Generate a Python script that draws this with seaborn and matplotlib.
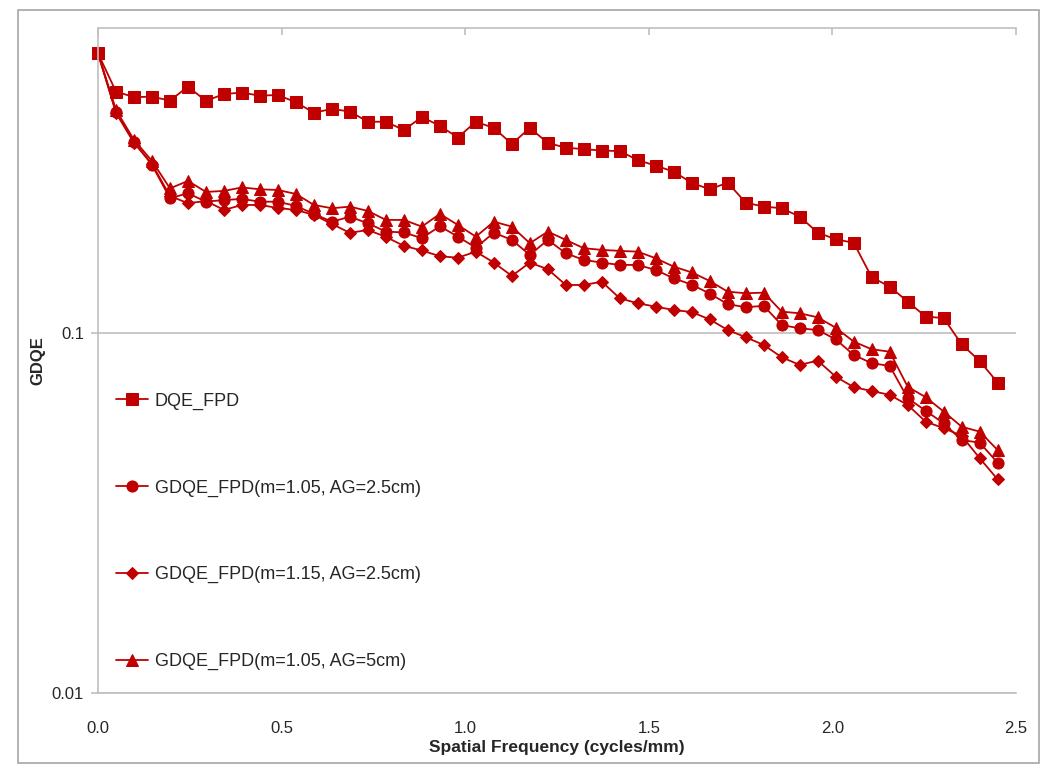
import matplotlib
matplotlib.use("Agg")
import matplotlib.pyplot as plt
import seaborn as sns
from matplotlib import font_manager
from matplotlib.patches import Rectangle

# spatial frequency (cycles/mm)
freq = [0.000, 0.049, 0.098, 0.147, 0.196, 0.245, 0.294, 0.343, 0.392, 0.441,
        0.490, 0.539, 0.588, 0.637, 0.686, 0.735, 0.784, 0.833, 0.882, 0.931,
        0.980, 1.029, 1.078, 1.127, 1.176, 1.225, 1.274, 1.323, 1.372, 1.421,
        1.470, 1.519, 1.568, 1.617, 1.666, 1.715, 1.764, 1.813, 1.862, 1.911,
        1.960, 2.009, 2.058, 2.107, 2.156, 2.205, 2.254, 2.303, 2.352, 2.401,
        2.450]

dqe_fpd = [0.598, 0.468, 0.452, 0.453, 0.442, 0.483, 0.441, 0.461, 0.465, 0.456,
           0.458, 0.437, 0.409, 0.419, 0.412, 0.386, 0.386, 0.366, 0.398, 0.376,
           0.349, 0.386, 0.371, 0.335, 0.371, 0.337, 0.327, 0.324, 0.321, 0.320,
           0.302, 0.2915, 0.2805, 0.261, 0.2506, 0.2615, 0.230, 0.2244, 0.222, 0.2104,
           0.190, 0.182, 0.178, 0.1428, 0.1345, 0.1222, 0.111, 0.110, 0.0930, 0.0836,
           0.0728]

gdqe_m105_ag25 = [0.598, 0.4111, 0.3399, 0.2928, 0.2367, 0.2443, 0.2315, 0.2340, 0.2356, 0.2315,
                  0.2315, 0.2253, 0.2141, 0.2037, 0.2103, 0.2016, 0.1912, 0.1902, 0.1833, 0.1979,
                  0.1851, 0.1725, 0.1899, 0.1813, 0.1647, 0.1813, 0.1665, 0.1595, 0.1568, 0.1545,
                  0.1545, 0.1496, 0.1418, 0.1362, 0.1286, 0.1202, 0.1179, 0.1189, 0.1052, 0.1030,
                  0.1019, 0.0960, 0.0869, 0.0824, 0.0810, 0.0659, 0.0608, 0.0561, 0.0504, 0.0496,
                  0.0436]

gdqe_m115_ag25 = [0.598, 0.4085, 0.3371, 0.2946, 0.2402, 0.2292, 0.2326, 0.2196, 0.2267, 0.2267,
                  0.2224, 0.2196, 0.2127, 0.2008, 0.1896, 0.1933, 0.1848, 0.1745, 0.1695, 0.1633,
                  0.1618, 0.1682, 0.1568, 0.1440, 0.1568, 0.1503, 0.1359, 0.1359, 0.1388, 0.1248,
                  0.1209, 0.1183, 0.1158, 0.1143, 0.1090, 0.1019, 0.0973, 0.0926, 0.0856, 0.0815,
                  0.0838, 0.0756, 0.0707, 0.0690, 0.0673, 0.0631, 0.0567, 0.0544, 0.0518, 0.0449,
                  0.0392]

gdqe_m105_ag5 = [0.598, 0.4163, 0.3437, 0.3004, 0.2520, 0.2644, 0.2464, 0.2480, 0.2536, 0.2506,
                 0.2495, 0.2432, 0.2267, 0.2220, 0.2243, 0.2182, 0.2060, 0.2060, 0.1974, 0.2141,
                 0.1995, 0.1851, 0.2037, 0.1974, 0.1775, 0.1912, 0.1813, 0.1719, 0.1701, 0.1690,
                 0.1682, 0.1612, 0.1528, 0.1473, 0.1394, 0.1302, 0.1289, 0.1294, 0.1146, 0.1134,
                 0.1105, 0.1034, 0.0946, 0.0901, 0.0887, 0.0709, 0.0663, 0.0605, 0.0549, 0.0532,
                 0.0473]

series_labels = ["DQE_FPD",
                 "GDQE_FPD(m=1.05, AG=2.5cm)",
                 "GDQE_FPD(m=1.15, AG=2.5cm)",
                 "GDQE_FPD(m=1.05, AG=5cm)"]

red = "#C00000"
grey = "#BFBFBF"

sns.set_style("white")
names = {f.name for f in font_manager.fontManager.ttflist}
base_font = "Liberation Sans Narrow" if "Liberation Sans Narrow" in names else "Liberation Sans"
plt.rcParams["font.family"] = [base_font, "DejaVu Sans"]

fig = plt.figure(figsize=(10.5, 7.75), dpi=100)
ax = fig.add_axes([98 / 1050, 1 - 693 / 775, (1016 - 98) / 1050, (693 - 28) / 775])

styles = [("s", 9), ("o", 8), ("D", 6), ("^", 8.5)]
for vals, label, (mk, ms) in zip([dqe_fpd, gdqe_m105_ag25, gdqe_m115_ag25, gdqe_m105_ag5],
                                 series_labels, styles):
    sns.lineplot(x=freq, y=vals, ax=ax, color=red, marker=mk, markersize=ms,
                 markeredgecolor=red, markerfacecolor=red, linewidth=1.3, label=label,
                 clip_on=False)

ax.set_yscale("log")
ax.set_xlim(0, 2.5)
ax.set_ylim(0.01, 0.703)
ax.set_yticks([0.01, 0.1], labels=["0.01", "0.1"])
ax.yaxis.set_minor_locator(matplotlib.ticker.NullLocator())
ax.set_xticks([0.0, 0.5, 1.0, 1.5, 2.0, 2.5],
              labels=["0.0", "0.5", "1.0", "1.5", "2.0", "2.5"])

ax.grid(axis="y", which="major", color=grey, linewidth=1.2)
ax.grid(axis="x", visible=False)
ax.spines["right"].set_visible(False)
for side in ["left", "top", "bottom"]:
    ax.spines[side].set_color(grey)
    ax.spines[side].set_linewidth(1.2)

ax.tick_params(axis="x", top=True, bottom=False, labeltop=False, labelbottom=True,
               direction="in", length=5, color=grey, width=1.2, pad=20, labelsize=12)
ax.tick_params(axis="y", left=True, direction="out", length=5, color=grey, width=1.2,
               pad=5, labelsize=12)

ax.set_xlabel("Spatial Frequency (cycles/mm)", fontsize=12.5, fontweight="bold", labelpad=3)
ax.set_ylabel("GDQE", fontsize=12, fontweight="bold", labelpad=5)

ax.legend(loc="center left", bbox_to_anchor=(0.0, 0.243), frameon=False, fontsize=13,
          labelspacing=3.85, handlelength=1.75, handletextpad=0.4, borderaxespad=0.6)

fig.patches.append(Rectangle((18 / 1050, 1 - 763 / 775), (1039 - 18) / 1050, (763 - 10) / 775,
                             transform=fig.transFigure, fill=False, edgecolor="#A6A6A6",
                             linewidth=1.2))

fig.savefig("out.png", dpi=100)
